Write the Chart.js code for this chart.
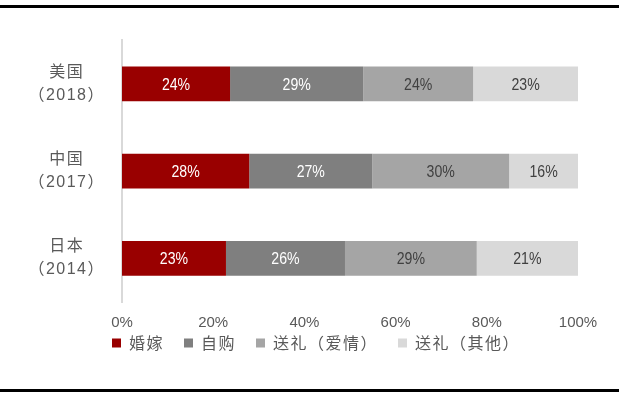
<!DOCTYPE html>
<html>
<head>
<meta charset="utf-8">
<script src="https://cdn.jsdelivr.net/npm/chart.js@4/dist/chart.umd.min.js"></script>
<style>
html, body { margin: 0; padding: 0; background: #ffffff; }
#wrap { position: relative; width: 619px; height: 396px; overflow: hidden; background: #ffffff; }
#wrap canvas { position: absolute; left: 0; top: 0; }
.rule { position: absolute; left: 0; width: 619px; height: 3px; background: #000000; }
</style>
</head>
<body>
<div id="wrap">
  <canvas id="c" width="619" height="396"></canvas>
  <div class="rule" style="top:5px"></div>
  <div class="rule" style="top:389px"></div>
</div>
<script>
// Categories (y axis), top to bottom
const categories = [['美国', '（2018）'], ['中国', '（2017）'], ['日本', '（2014）']];
// Series names (legend)
const seriesNames = ['婚嫁', '自购', '送礼（爱情）', '送礼（其他）'];
// Segment shares (%)
const wedding      = [23.7, 27.9, 22.8];
const selfPurchase = [29.2, 27.0, 26.1];
const giftLove     = [24.1, 30.0, 28.9];
const giftOther    = [23.0, 15.1, 22.2];
// Printed value labels
const weddingLabels      = ['24%', '28%', '23%'];
const selfPurchaseLabels = ['29%', '27%', '26%'];
const giftLoveLabels     = ['24%', '30%', '29%'];
const giftOtherLabels    = ['23%', '16%', '21%'];
// X axis tick values
const xTickValues = [0, 20, 40, 60, 80, 100];

const seriesValues = [wedding, selfPurchase, giftLove, giftOther];
const seriesLabels = [weddingLabels, selfPurchaseLabels, giftLoveLabels, giftOtherLabels];
const seriesColors = ['#990000', '#7f7f7f', '#a5a5a5', '#d9d9d9'];
const labelColors  = ['#ffffff', '#ffffff', '#404040', '#404040'];

const NUM_FONT = '"Liberation Sans", Arial, sans-serif';
const CJK_FONT = '"Noto Sans CJK SC", sans-serif';
const CJK_SPACING = '1.5px';

// letter spacing for the CJK texts (y labels and legend), none for numbers
const spacingPlugin = {
  id: 'spacing',
  beforeLayout(chart) { chart.ctx.letterSpacing = CJK_SPACING; },
  afterLayout(chart) {
    chart.ctx.letterSpacing = '0px';
    // place the legend row just under the x tick labels, starting under the axis
    const lg = chart.legend;
    if (lg && lg.lineWidths) {
      const pad = lg.options.labels.padding;
      const startX = (lg.left + pad + lg.right - lg.lineWidths[0]) / 2;
      const dx = 112 - startX;
      const dy = (chart.scales.x.top + 13) - lg.top;
      lg.left += dx; lg.right += dx;
      lg.top += dy; lg.bottom += dy;
    }
  },
  beforeDraw(chart) { chart.ctx.letterSpacing = CJK_SPACING; },
  beforeDatasetsDraw(chart) { chart.ctx.letterSpacing = '0px'; }
};

const valueLabelPlugin = {
  id: 'valueLabels',
  afterDatasetsDraw(chart) {
    const ctx = chart.ctx;
    chart.data.datasets.forEach((ds, di) => {
      const meta = chart.getDatasetMeta(di);
      meta.data.forEach((bar, i) => {
        const p = bar.getProps(['x', 'y', 'base'], true);
        ctx.save();
        ctx.letterSpacing = '0px';
        ctx.font = '17px ' + NUM_FONT;
        ctx.textAlign = 'center';
        ctx.textBaseline = 'middle';
        ctx.fillStyle = labelColors[di];
        ctx.translate((p.x + p.base) / 2, p.y + 1);
        ctx.scale(0.83, 1);
        ctx.fillText(seriesLabels[di][i], 0, 0);
        ctx.restore();
      });
    });
  }
};

new Chart(document.getElementById('c'), {
  type: 'bar',
  data: {
    labels: categories,
    datasets: seriesNames.map((name, i) => ({
      label: name,
      data: seriesValues[i],
      backgroundColor: seriesColors[i],
      borderColor: seriesColors[i],
      borderWidth: 0,
      barPercentage: 1,
      categoryPercentage: 0.4
    }))
  },
  options: {
    indexAxis: 'y',
    responsive: false,
    animation: false,
    devicePixelRatio: 1,
    layout: { padding: { left: 0, right: 41, top: 37, bottom: 16 } },
    plugins: {
      tooltip: { enabled: false },
      legend: {
        position: 'bottom',
        align: 'center',
        labels: {
          boxWidth: 9,
          boxHeight: 9,
          padding: 20,
          color: '#595959',
          font: { family: CJK_FONT, size: 16 }
        }
      }
    },
    scales: {
      x: {
        stacked: true,
        min: 0,
        max: 100,
        grid: { display: false, drawTicks: false },
        border: { display: false },
        afterBuildTicks: (s) => { s.ticks = xTickValues.map(v => ({ value: v })); },
        ticks: {
          z: 1,
          padding: 12,
          autoSkip: false,
          maxRotation: 0,
          color: '#595959',
          font: { family: NUM_FONT, size: 15 },
          callback: (v) => v + '%'
        },
        afterFit: (s) => { s.height = 32; }
      },
      y: {
        stacked: true,
        grid: { display: false, drawTicks: false },
        border: { display: true, color: '#d9d9d9', width: 2 },
        ticks: {
          padding: 17,
          crossAlign: 'center',
          color: '#595959',
          font: { family: '"Liberation Sans", "Noto Sans CJK SC", sans-serif', size: 16, lineHeight: 1.45 }
        },
        afterFit: (s) => { s.width = 122; }
      }
    }
  },
  plugins: [spacingPlugin, valueLabelPlugin]
});
</script>
</body>
</html>
